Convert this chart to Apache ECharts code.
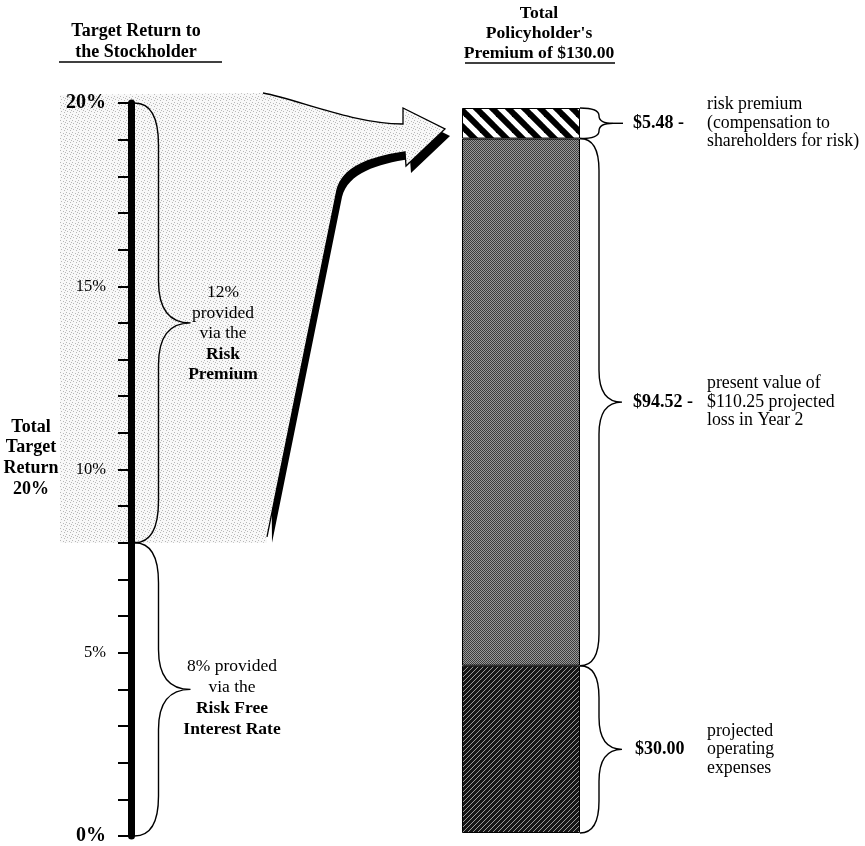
<!DOCTYPE html>
<html>
<head>
<meta charset="utf-8">
<script src="https://cdn.jsdelivr.net/npm/echarts@6/dist/echarts.min.js"></script>
<style>
  html, body { margin: 0; padding: 0; background: #fff; }
  #chart { width: 865px; height: 846px; }
</style>
</head>
<body>
<div id="chart"></div>
<script>
// Target return scale, in percent
const returnMin = 0;
const returnMax = 20;
const returnStep = 1;
const returnLabelStep = 5;
const riskFreeRate = 8;       // supplied by the risk free interest rate
const riskPremiumRate = 12;   // supplied by the risk premium
const totalReturn = riskFreeRate + riskPremiumRate;

// Policyholder's premium, stacked bottom to top
const premiumCategory = ['Premium'];
const premiumNames = ['Operating expenses', 'Present value of loss', 'Risk premium'];
const premiumValues = [30.00, 94.52, 5.48];
const premiumTotal = 130.00;
const premiumValueLabels = ['$30.00', '$94.52 -', '$5.48 -'];
const premiumNotes = [
  ['projected', 'operating', 'expenses'],
  ['present value of', '$110.25 projected', 'loss in Year 2'],
  ['risk premium', '(compensation to', 'shareholders for risk)']
];

// Text beside the two return braces: [line, bold]
const riskFreeNote = [[riskFreeRate + '% provided', false], ['via the', false], ['Risk Free', true], ['Interest Rate', true]];
const riskPremiumNote = [[riskPremiumRate + '%', false], ['provided', false], ['via the', false], ['Risk', true], ['Premium', true]];
const totalNote = ['Total', 'Target', 'Return', totalReturn + '%'];

const FONT = '"Liberation Serif", "Times New Roman", serif';
const font = (size, bold) => (bold ? 'bold ' : '') + size + 'px ' + FONT;

// Tiled fills
function pattern(size, draw) {
  const c = document.createElement('canvas');
  c.width = c.height = size;
  const ctx = c.getContext('2d');
  draw(ctx, size);
  return { image: c, repeat: 'repeat' };
}
const lightStipple = pattern(6, (c, s) => {
  c.fillStyle = '#f8f8f8'; c.fillRect(0, 0, s, s);
  c.fillStyle = '#b8b8b8';
  [[0, 0], [3, 1], [1, 3], [4, 4], [5, 2]].forEach(([x, y]) => c.fillRect(x, y, 1, 1));
});
const darkStipple = pattern(4, (c, s) => {
  c.fillStyle = '#9a9a9a'; c.fillRect(0, 0, s, s);
  c.fillStyle = '#3c3c3c';
  for (let x = 0; x < s; x++) for (let y = 0; y < s; y++) if ((x + y) % 2 === 0) c.fillRect(x, y, 1, 1);
});
const fineHatch = pattern(5, (c, s) => {
  c.fillStyle = '#161616'; c.fillRect(0, 0, s, s);
  c.fillStyle = '#9c9c9c';
  for (let x = 0; x < s; x++) c.fillRect(x, s - 1 - x, 1, 1);
});
const wideStripes = pattern(16, (c, s) => {
  c.fillStyle = '#ffffff'; c.fillRect(0, 0, s, s);
  c.strokeStyle = '#000000'; c.lineWidth = 6;
  for (let k = -s; k <= s; k += s) {
    c.beginPath(); c.moveTo(k - 2, -2); c.lineTo(k + s + 2, s + 2); c.stroke();
  }
});
const segmentFills = [fineHatch, darkStipple, wideStripes];

const returnGrid = { left: 131, top: 103, bottom: 9, width: 10 };
const barGrid = { left: 462, top: 108, bottom: 13, width: 118 };

const chart = echarts.init(document.getElementById('chart'));

const baseSeries = [
  { type: 'line', xAxisIndex: 0, yAxisIndex: 0, data: [], silent: true },
  ...premiumValues.map((v, i) => ({
    name: premiumNames[i],
    type: 'bar', stack: 'premium',
    xAxisIndex: 1, yAxisIndex: 1,
    barWidth: '100%',
    silent: true,
    data: [v],
    itemStyle: { color: segmentFills[i], borderColor: '#000', borderWidth: 1 }
  }))
];

chart.setOption({
  animation: false,
  backgroundColor: '#ffffff',
  textStyle: { fontFamily: FONT, color: '#000' },
  grid: [returnGrid, barGrid],
  xAxis: [
    { gridIndex: 0, type: 'value', min: 0, max: 1, show: false },
    { gridIndex: 1, type: 'category', data: premiumCategory, show: false }
  ],
  yAxis: [
    {
      gridIndex: 0, type: 'value', position: 'left',
      min: returnMin, max: returnMax, interval: returnStep,
      splitLine: { show: false },
      axisLine: { show: true, lineStyle: { color: '#000', width: 7 } },
      axisTick: { show: true, length: 13, lineStyle: { color: '#000', width: 2 } },
      axisLabel: {
        margin: 25,
        formatter: v => {
          if (v % returnLabelStep !== 0) return '';
          const bold = v === returnMin || v === returnMax;
          return (bold ? '{b|' : '{n|') + v + '%}';
        },
        rich: {
          b: { fontFamily: FONT, fontWeight: 'bold', fontSize: 20, color: '#000' },
          n: { fontFamily: FONT, fontSize: 16.5, color: '#000' }
        }
      }
    },
    { gridIndex: 1, type: 'value', min: 0, max: premiumTotal, show: false }
  ],
  series: baseSeries
});

// Pixel anchors taken from the axes
const axX = chart.convertToPixel({ gridIndex: 0 }, [0, 0])[0];
const yR = v => chart.convertToPixel({ gridIndex: 0 }, [0, v])[1];
const yP = v => chart.convertToPixel({ gridIndex: 1 }, [0, v])[1];
const barR = barGrid.left + barGrid.width;

// Curly brace opening toward x0, pointing right
function brace(x0, y1, y2, depth, arm, r) {
  r = Math.min(r, (y2 - y1) / 4);
  const ym = (y1 + y2) / 2, xa = x0 + arm, xt = x0 + depth;
  return `M${x0},${y1} Q${xa},${y1} ${xa},${y1 + r} L${xa},${ym - r} ` +
         `Q${xa},${ym} ${xt},${ym} Q${xa},${ym} ${xa},${ym + r} ` +
         `L${xa},${y2 - r} Q${xa},${y2} ${x0},${y2}`;
}
const braceStyle = { stroke: '#000', lineWidth: 1.4, fill: 'none' };
const pathEl = (d, style) => ({ type: 'path', shape: { pathData: d }, style });
const lineEl = (x1, y1, x2, y2, w) => ({ type: 'line', shape: { x1, y1, x2, y2 }, style: { stroke: '#000', lineWidth: w, fill: 'none' } });

function text(x, y, s, size, bold, align) {
  return {
    type: 'text', x, y,
    style: { text: s, fill: '#000', font: font(size, bold), textAlign: align || 'left', textVerticalAlign: 'middle' }
  };
}
function block(lines, cx, cy, size, lh, align) {
  const y0 = cy - (lines.length - 1) * lh / 2;
  return lines.map((l, i) => text(cx, y0 + i * lh, l[0], size, l[1], align));
}

const back = [];
const front = [];

// Shaded return band with its arrow toward the premium bar
const ox = axX, oy = yR(returnMax);
const P = (dx, dy) => [ox + dx, oy + dy];
const bandBottom = yR(riskFreeRate);
const p = {
  p0: P(-71, -8), p1: P(132, -10), c1: P(169, -3), c2: P(219, 20), p2: P(272, 21),
  p3: P(272, 5), p4: P(314, 26), p5: P(275, 63), p6: P(274, 49),
  c3: P(241, 54), c4: P(212, 63), p7: P(206, 87), p8: [ox + 136, bandBottom - 6]
};
const pt = a => a[0] + ',' + a[1];
const off = (a, dx, dy) => [a[0] + dx, a[1] + dy];
const sx = 5, sy = 7;
const shadowPath = `M${pt(off(p.p1, sx, sy))} L${pt(off(p.p2, sx, sy))} L${pt(off(p.p3, sx, sy))} ` +
  `L${pt(off(p.p4, sx, sy))} L${pt(off(p.p5, sx, sy))} L${pt(off(p.p6, sx, sy))} ` +
  `C${pt(off(p.c3, sx, sy))} ${pt(off(p.c4, sx, sy))} ${pt(off(p.p7, sx, sy))} ` +
  `L${pt(off(p.p8, sx, sy - 1))} Z`;
back.push(pathEl(shadowPath, { fill: '#000' }));

const bandPath = `M${pt(p.p0)} L${pt(p.p1)} C${pt(p.c1)} ${pt(p.c2)} ${pt(p.p2)} L${pt(p.p3)} ` +
  `L${pt(p.p4)} L${pt(p.p5)} L${pt(p.p6)} C${pt(p.c3)} ${pt(p.c4)} ${pt(p.p7)} ` +
  `L${pt(p.p8)} L${p.p8[0]},${bandBottom} L${p.p0[0]},${bandBottom} Z`;
back.push(pathEl(bandPath, { fill: lightStipple }));

const outlinePath = `M${pt(p.p1)} C${pt(p.c1)} ${pt(p.c2)} ${pt(p.p2)} L${pt(p.p3)} L${pt(p.p4)} ` +
  `L${pt(p.p5)} L${pt(p.p6)} C${pt(p.c3)} ${pt(p.c4)} ${pt(p.p7)} L${pt(p.p8)}`;
back.push(pathEl(outlinePath, { stroke: '#000', lineWidth: 1.3, fill: 'none' }));

// Braces on the return axis
const bx = axX + 3.5;
const yTop = yR(returnMax), ySplit = yR(riskFreeRate), yZero = yR(returnMin);
front.push(pathEl(brace(bx, yTop, ySplit, 56, 24, 42), braceStyle));
front.push(pathEl(brace(bx, ySplit, yZero, 56, 24, 40), braceStyle));
front.push(...block(riskPremiumNote, 223, (yTop + ySplit) / 2 + 11, 17.5, 20.5, 'center'));
front.push(...block(riskFreeNote, 232, (ySplit + yZero) / 2 + 9, 17.5, 21, 'center'));
front.push(...block(totalNote.map(s => [s, true]), 31, 458, 18, 20.7, 'center'));

// Braces and notes for each premium segment
let cum = 0;
premiumValues.forEach((v, i) => {
  const yLow = yP(cum), yHigh = yP(cum + v);
  cum += v;
  const ym = (yLow + yHigh) / 2;
  const small = (yLow - yHigh) < 60;
  const depth = small ? 33 : 42;
  front.push(pathEl(brace(barR, yHigh, yLow, depth, 19, 32), braceStyle));
  if (small) front.push(lineEl(barR + depth, ym, barR + 43, ym, 1.4));
  front.push(text(i === 0 ? 635 : 633, ym, premiumValueLabels[i], 18, true));
  front.push(...block(premiumNotes[i].map(s => [s, false]), 707, ym, 17.8, 18.5, 'left'));
});

// Column headings
front.push(text(136, 31, 'Target Return to', 18, true, 'center'));
front.push(text(136, 52, 'the Stockholder', 18, true, 'center'));
front.push(lineEl(59, 62, 222, 62, 1.5));
front.push(text(539, 13, 'Total', 17.6, true, 'center'));
front.push(text(539, 33, "Policyholder's", 17.6, true, 'center'));
front.push(text(539, 53, 'Premium of $' + premiumTotal.toFixed(2), 17.6, true, 'center'));
front.push(lineEl(465, 63, 615, 63, 1.5));

const layer = (id, z, children) => ({
  id, type: 'custom', xAxisIndex: 0, yAxisIndex: 0, z, clip: false, silent: true,
  data: [0],
  renderItem: () => ({ type: 'group', children })
});

chart.setOption({
  series: baseSeries.concat([layer('band', -1, back), layer('notes', 10, front)])
});
</script>
</body>
</html>
